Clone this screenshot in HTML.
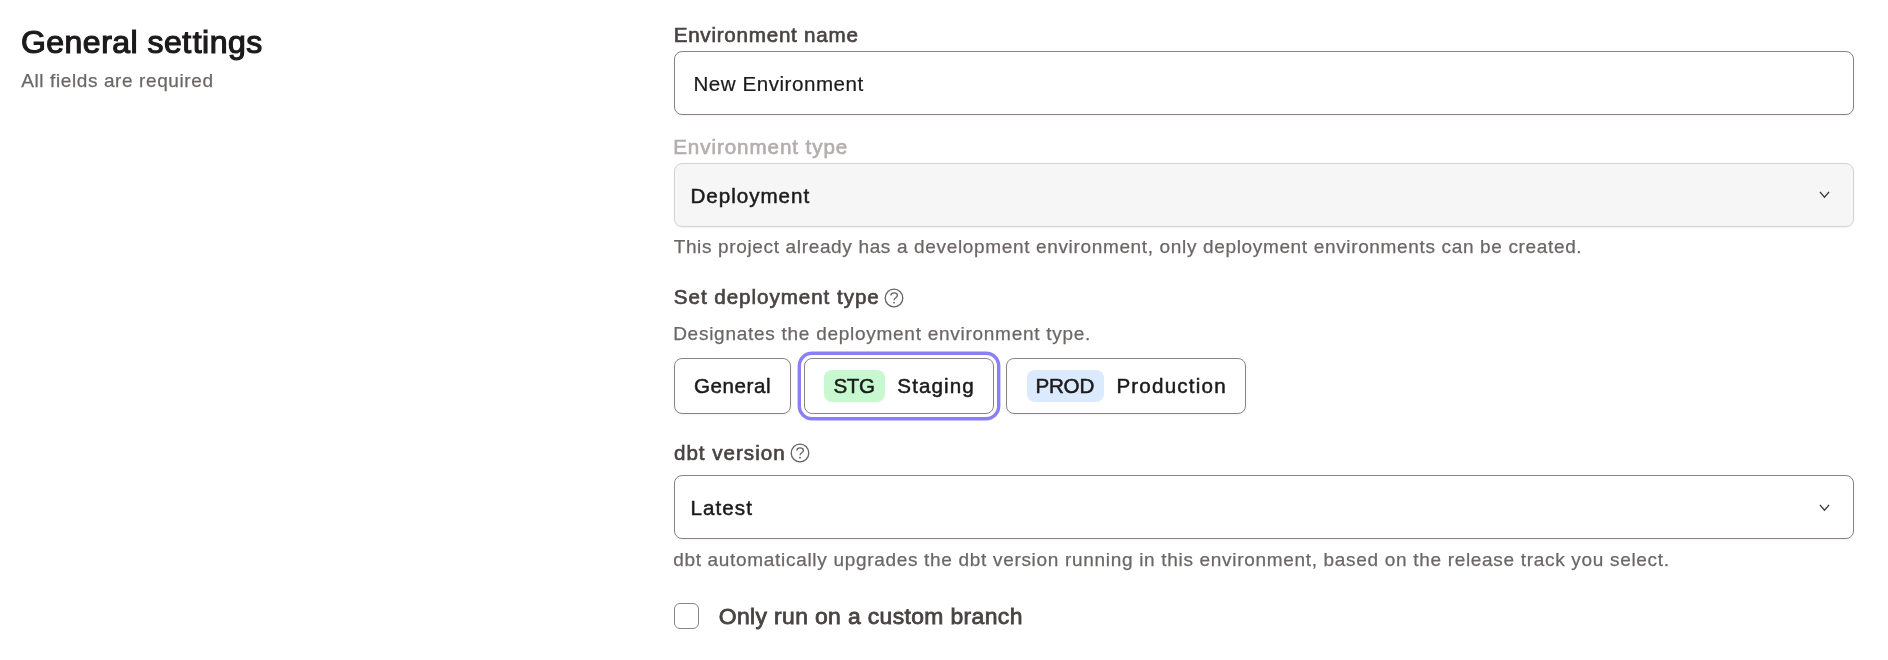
<!DOCTYPE html>
<html lang="en">
<head>
<meta charset="utf-8">
<title>General settings</title>
<style>
*{box-sizing:border-box;margin:0;padding:0}
html,body{width:1888px;height:660px;background:#fff;overflow:hidden}
body{position:relative;font-family:"Liberation Sans",Arial,sans-serif;color:#1c1a1a}
.t{position:absolute;white-space:nowrap;line-height:1}
.root{position:absolute;left:0;top:0;width:1888px;height:660px;will-change:transform}
.title{font-weight:400;color:#1c1a1a;-webkit-text-stroke:1.2px #1c1a1a}
.sub,.help{color:#6c6666;-webkit-text-stroke:0.25px #6c6666}
.label{color:#494343;-webkit-text-stroke:0.65px #494343}
.label.dis{color:#b5adad;-webkit-text-stroke:0.65px #b5adad}
.val{color:#1c1a1a;-webkit-text-stroke:0.2px #1c1a1a}
.val.med{-webkit-text-stroke:0.5px #1c1a1a}
.box{position:absolute;left:674px;width:1180px;height:64px;border:1px solid #8a8383;border-radius:8px;background:#fff;box-shadow:0 1px 2px rgba(0,0,0,.05)}
.box.dis{background:#f6f6f6;border-color:#d6d2d2}
.btn{position:absolute;top:358px;height:56px;border:1px solid #8a8383;border-radius:8px;background:#fff;box-shadow:0 1px 2px rgba(0,0,0,.05)}
.btn.sel{box-shadow:0 0 0 3px #fff,0 0 0 6.4px #8b7ff5}
.badge{position:absolute;top:370px;height:32px;border-radius:8px}
.chev,.q{position:absolute;overflow:visible}
.cb{position:absolute;left:674px;top:603px;width:25px;height:26px;border:1px solid #8a8383;border-radius:6px;background:#fff}
</style>
</head>
<body>
<div class="root">
<div class="t title" style="left:21.01px;top:26.21px;font-size:32px;letter-spacing:0.463px">General se<span style="margin-right:1.2px">t</span>tings</div>
<div class="t sub" style="left:21.25px;top:71.32px;font-size:19px;letter-spacing:0.601px">All fields are required</div>

<div class="t label" style="left:673.67px;top:24.66px;font-size:20.6px;letter-spacing:0.758px">Environment name</div>
<div class="box" style="top:51px"></div>
<div class="t val" style="left:693.45px;top:73.76px;font-size:20.6px;letter-spacing:0.522px">New Environment</div>

<div class="t label dis" style="left:673.22px;top:136.56px;font-size:20.6px;letter-spacing:0.919px">Environment type</div>
<div class="box dis" style="top:163px"></div>
<div class="t val med" style="left:690.51px;top:185.66px;font-size:20.6px;letter-spacing:0.972px">Deployment</div>
<svg class="chev" style="left:1819px;top:191px" width="11" height="8" viewBox="0 0 11 8"><path d="M0.9 0.9 L5.5 6.2 L10.1 0.9" fill="none" stroke="#403b3b" stroke-width="1.4" stroke-linecap="butt" stroke-linejoin="miter"/></svg>
<div class="t help" style="left:673.65px;top:237.02px;font-size:19px;letter-spacing:0.653px">This project already has a development environment, only deployment environments can be created.</div>

<div class="t label" style="left:673.84px;top:286.56px;font-size:20.6px;letter-spacing:0.955px">Set deployment type</div>
<svg class="q" style="left:884.3px;top:287.6px" width="20" height="20" viewBox="0 0 20 20"><circle cx="10" cy="10" r="8.8" fill="none" stroke="#686262" stroke-width="1.3"/><path d="M6.9 7.5 C6.9 5.7 8.3 4.9 10 4.9 C11.9 4.9 13.4 5.9 13.4 7.5 C13.4 9.9 10 9.7 10 12.2" fill="none" stroke="#686262" stroke-width="1.3" stroke-linecap="butt"/><circle cx="10" cy="14.6" r="0.95" fill="#686262"/></svg>
<div class="t help" style="left:673.16px;top:323.52px;font-size:19px;letter-spacing:0.730px">Designates the deployment environment type.</div>

<div class="btn" style="left:674px;width:117px"></div>
<div class="t val med" style="left:694.01px;top:375.56px;font-size:20.6px;letter-spacing:0.559px">General</div>

<div class="btn sel" style="left:804px;width:190px"></div>
<div class="badge" style="left:824px;width:61px;background:#c7f8cf"></div>
<div class="t val med" style="left:833.47px;top:375.56px;font-size:20.6px;letter-spacing:-0.435px">STG</div>
<div class="t val med" style="left:897.32px;top:375.56px;font-size:20.6px;letter-spacing:1.081px">Staging</div>

<div class="btn" style="left:1006px;width:240px"></div>
<div class="badge" style="left:1027px;width:77px;background:#dbeafe"></div>
<div class="t val med" style="left:1035.51px;top:375.96px;font-size:20.6px;letter-spacing:-0.244px">PROD</div>
<div class="t val med" style="left:1116.39px;top:375.96px;font-size:20.6px;letter-spacing:1.199px">Production</div>

<div class="t label" style="left:673.95px;top:442.56px;font-size:20.6px;letter-spacing:0.995px">dbt version</div>
<svg class="q" style="left:790.3px;top:442.6px" width="20" height="20" viewBox="0 0 20 20"><circle cx="10" cy="10" r="8.8" fill="none" stroke="#686262" stroke-width="1.3"/><path d="M6.9 7.5 C6.9 5.7 8.3 4.9 10 4.9 C11.9 4.9 13.4 5.9 13.4 7.5 C13.4 9.9 10 9.7 10 12.2" fill="none" stroke="#686262" stroke-width="1.3" stroke-linecap="butt"/><circle cx="10" cy="14.6" r="0.95" fill="#686262"/></svg>
<div class="box" style="top:475px"></div>
<div class="t val med" style="left:690.39px;top:497.56px;font-size:20.6px;letter-spacing:1.094px">Latest</div>
<svg class="chev" style="left:1819px;top:503.8px" width="11" height="8" viewBox="0 0 11 8"><path d="M0.9 0.9 L5.5 6.2 L10.1 0.9" fill="none" stroke="#403b3b" stroke-width="1.4" stroke-linecap="butt" stroke-linejoin="miter"/></svg>
<div class="t help" style="left:673.16px;top:550.22px;font-size:19px;letter-spacing:0.687px">dbt automatically upgrades the dbt version running in this environment, based on the release track you select.</div>

<div class="cb"></div>
<div class="t label" style="left:718.79px;top:605.12px;font-size:22.9px;letter-spacing:0.372px"><span style="-webkit-text-stroke:0.8px #494343">Only run on a custom branch</span></div>
</div>
</body>
</html>
